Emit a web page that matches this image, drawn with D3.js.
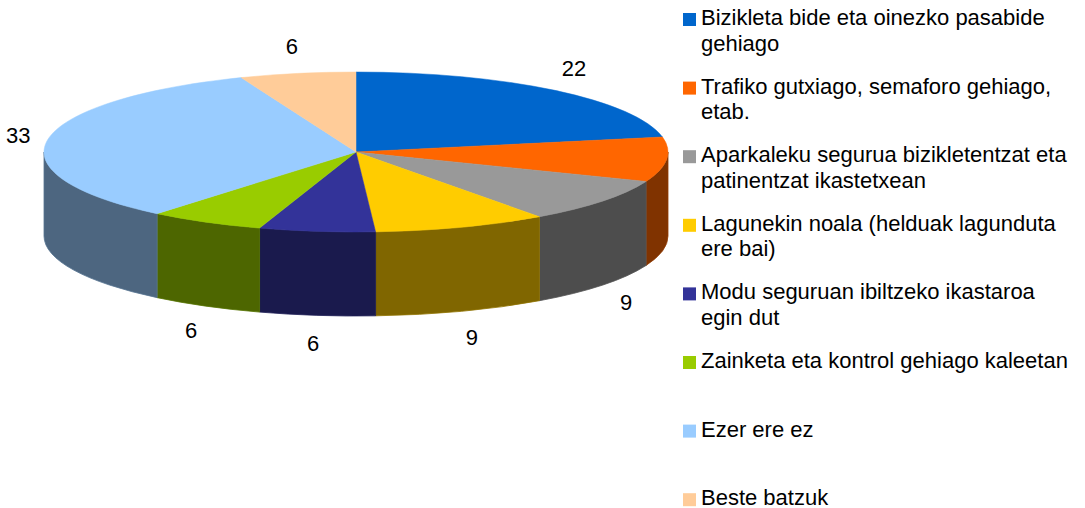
<!DOCTYPE html>
<html>
<head>
<meta charset="utf-8">
<script src="https://cdn.jsdelivr.net/npm/d3@7"></script>
<style>
  html, body { margin: 0; padding: 0; background: #fff; }
  svg { display: block; font-family: "Liberation Sans", Arial, sans-serif; }
</style>
</head>
<body>
<script>
const categories = [
  "Bizikleta bide eta oinezko pasabide\ngehiago",
  "Trafiko gutxiago, semaforo gehiago,\netab.",
  "Aparkaleku segurua bizikletentzat eta\npatinentzat ikastetxean",
  "Lagunekin noala (helduak lagunduta\nere bai)",
  "Modu seguruan ibiltzeko ikastaroa\negin dut",
  "Zainketa eta kontrol gehiago kaleetan",
  "Ezer ere ez",
  "Beste batzuk"
];
const values = [22, 9, 9, 9, 6, 6, 33, 6];
const colors = ["#0066CC", "#FF6600", "#999999", "#FFCC00", "#333399", "#99CC00", "#99CCFF", "#FFCC99"];

const W = 1085, H = 508;
const cx = 356, cy = 152, rx = 312, ry = 80, depth = 84;
const lrx = 342, lry = 108;

const svg = d3.select("body").append("svg")
  .attr("width", W)
  .attr("height", H);

svg.append("defs").append("clipPath")
  .attr("id", "plot")
  .append("rect")
  .attr("width", 680)
  .attr("height", H);

const color = d3.scaleOrdinal().domain(categories).range(colors);

const pie = d3.pie()
  .sort(null)
  .value(d => d.value)
  .startAngle(0)
  .endAngle(2 * Math.PI);

const arcs = pie(values.map((v, i) => ({ name: categories[i], value: v })));

const pt = (a, dy = 0) => [cx + rx * Math.sin(a), cy - ry * Math.cos(a) + dy];

function topPath(d) {
  const p = d3.path();
  const [x0, y0] = pt(d.startAngle);
  const [x1, y1] = pt(d.endAngle);
  const large = d.endAngle - d.startAngle > Math.PI ? 1 : 0;
  return `M${cx},${cy}L${x0},${y0}A${rx},${ry} 0 ${large} 1 ${x1},${y1}Z`;
}

// outer wall, only the front half (90deg..270deg) is visible
function sidePath(d) {
  const s = Math.max(d.startAngle, Math.PI / 2);
  const e = Math.min(d.endAngle, 3 * Math.PI / 2);
  if (e <= s) return null;
  const [x0, y0] = pt(s);
  const [x1, y1] = pt(e);
  return `M${x0},${y0}A${rx},${ry} 0 0 1 ${x1},${y1}` +
    `L${x1},${y1 + depth}A${rx},${ry} 0 0 0 ${x0},${y0 + depth}Z`;
}

const g = svg.append("g");

g.selectAll("path.side")
  .data(arcs.filter(d => sidePath(d)))
  .enter()
  .append("path")
  .attr("class", "side")
  .attr("d", sidePath)
  .attr("fill", d => d3.color(color(d.data.name)).darker(1.94))
  .attr("stroke", d => d3.color(color(d.data.name)).darker(1.6))
  .attr("stroke-width", 0.8);

g.selectAll("path.top")
  .data(arcs)
  .enter()
  .append("path")
  .attr("class", "top")
  .attr("d", topPath)
  .attr("fill", d => color(d.data.name))
  .attr("stroke", d => color(d.data.name))
  .attr("stroke-width", 0.5);

// value labels
svg.append("g")
  .attr("clip-path", "url(#plot)")
  .selectAll("text")
  .data(arcs)
  .enter()
  .append("text")
  .attr("x", d => {
    const m = (d.startAngle + d.endAngle) / 2;
    return cx + lrx * Math.sin(m);
  })
  .attr("y", d => {
    const m = (d.startAngle + d.endAngle) / 2;
    const c = Math.cos(m);
    return cy - lry * c + (c < 0 ? depth : 0);
  })
  .attr("dy", "0.35em")
  .attr("text-anchor", "middle")
  .attr("font-size", 22)
  .attr("fill", "#000")
  .text(d => d.value);

// legend
const legend = svg.append("g")
  .attr("transform", "translate(683,25)");

const item = legend.selectAll("g")
  .data(categories)
  .enter()
  .append("g")
  .attr("transform", (d, i) => `translate(0,${i * 68.6})`);

item.append("rect")
  .attr("x", 0)
  .attr("y", -12)
  .attr("width", 13)
  .attr("height", 13)
  .attr("fill", d => color(d));

item.append("text")
  .attr("x", 18)
  .attr("font-size", 22)
  .attr("fill", "#000")
  .selectAll("tspan")
  .data(d => d.split("\n"))
  .enter()
  .append("tspan")
  .attr("x", 18)
  .attr("dy", (d, i) => i === 0 ? 0 : 25.7)
  .text(d => d);
</script>
</body>
</html>
